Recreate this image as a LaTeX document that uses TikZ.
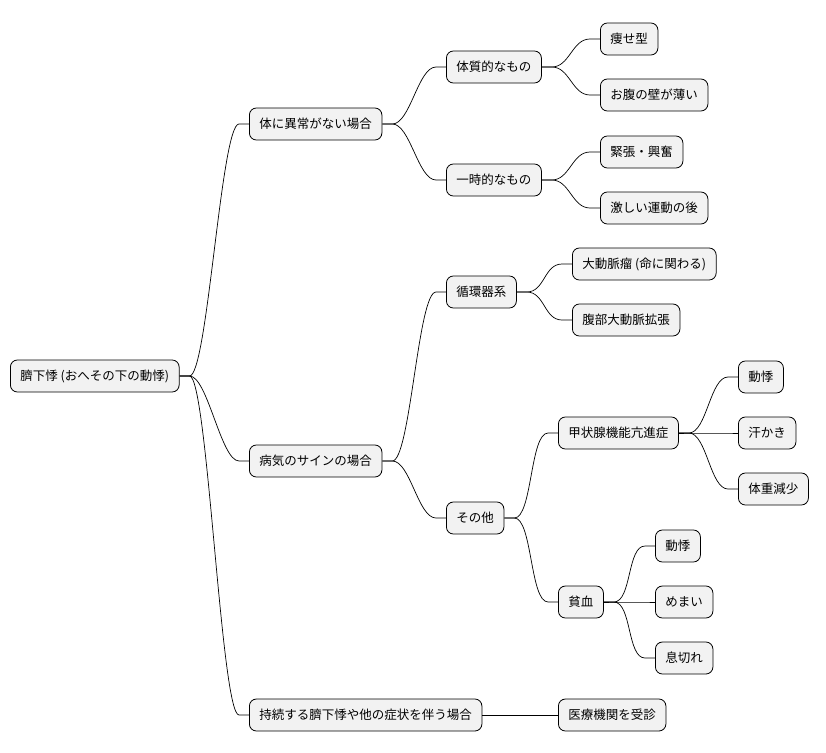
\documentclass[tikz,border=0pt]{standalone}
\usepackage{fontspec}
\setmainfont{Noto Sans CJK JP}
\usetikzlibrary{calc}
\begin{document}
\begin{tikzpicture}[x=1pt,y=-1pt,
  mm/.style={draw=black,fill=gray!10,rounded corners=7pt,line width=0.8pt,minimum height=32pt,inner xsep=10pt,anchor=west,font=\fontsize{12.5}{14}\selectfont},
  cn/.style={line width=0.7pt}]
\useasboundingbox (0,0) rectangle (826,752);
\newcommand{\conn}[2]{\draw[cn] (#1.east) -- ++(10,0) .. controls +(18,0) and ($(#2.west)+(-28,0)$) .. ($(#2.west)+(-10,0)$) -- (#2.west);}
\node[mm] (r) at (10,376) {臍下悸 (おへその下の動悸)};
\node[mm] (a) at (249,124) {体に異常がない場合};
\node[mm] (b) at (249,461) {病気のサインの場合};
\node[mm] (c) at (249,715) {持続する臍下悸や他の症状を伴う場合};
\node[mm] (a1) at (446,67) {体質的なもの};
\node[mm] (a2) at (446,180) {一時的なもの};
\node[mm] (a11) at (600,39) {痩せ型};
\node[mm] (a12) at (600,95) {お腹の壁が薄い};
\node[mm] (a21) at (600,152) {緊張・興奮};
\node[mm] (a22) at (600,208) {激しい運動の後};
\node[mm] (b1) at (446,292) {循環器系};
\node[mm] (b11) at (572,264) {大動脈瘤 (命に関わる)};
\node[mm] (b12) at (572,320) {腹部大動脈拡張};
\node[mm] (b2) at (446,518) {その他};
\node[mm] (b21) at (558,433) {甲状腺機能亢進症};
\node[mm] (b211) at (738,377) {動悸};
\node[mm] (b212) at (738,433) {汗かき};
\node[mm] (b213) at (738,489) {体重減少};
\node[mm] (b22) at (558,602) {貧血};
\node[mm] (b221) at (655,546) {動悸};
\node[mm] (b222) at (655,602) {めまい};
\node[mm] (b223) at (655,658) {息切れ};
\node[mm] (c1) at (558,715) {医療機関を受診};
\conn{r}{a}\conn{r}{b}\conn{r}{c}
\conn{a}{a1}\conn{a}{a2}
\conn{a1}{a11}\conn{a1}{a12}\conn{a2}{a21}\conn{a2}{a22}
\conn{b}{b1}\conn{b}{b2}
\conn{b1}{b11}\conn{b1}{b12}
\conn{b2}{b21}\conn{b2}{b22}
\conn{b21}{b211}\conn{b21}{b212}\conn{b21}{b213}
\conn{b22}{b221}\conn{b22}{b222}\conn{b22}{b223}
\conn{c}{c1}
\end{tikzpicture}
\end{document}
